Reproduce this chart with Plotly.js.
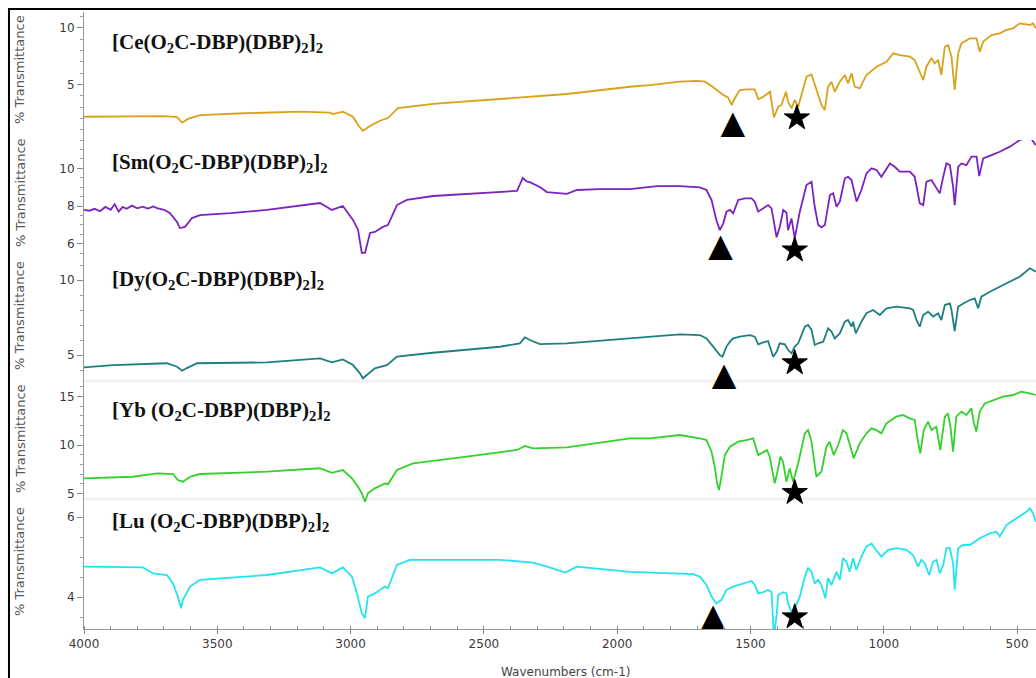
<!DOCTYPE html>
<html>
<head>
<meta charset="utf-8">
<script src="https://cdn.plot.ly/plotly-3.0.1.min.js"></script>
<style>html,body{margin:0;padding:0;background:#fff;}#chart{width:1036px;height:678px;}</style>
</head>
<body>
<div id="chart"></div>
<script>
// ---- Data (wavenumber cm-1, % transmittance) ----
const ceWn = [4000,3900,3800,3700,3651,3632,3610,3565,3400,3190,3077,3066,3029,2991,2972,2954,2927,2890,2860,2822,2691,2440,2189,1952,1877,1765,1700,1671,1646,1602,1584,1571,1559,1540,1515,1484,1471,1452,1427,1412,1396,1384,1367,1359,1346,1334,1321,1290,1271,1252,1234,1221,1209,1196,1184,1165,1146,1134,1121,1109,1090,1065,1027,990,965,940,902,884,871,852,840,821,809,796,784,771,759,746,734,721,709,677,652,640,627,596,565,540,515,490,452,440,430];
const ceT  = [2.14,2.18,2.20,2.20,2.12,1.62,1.95,2.29,2.45,2.59,2.50,2.38,2.59,2.14,1.41,0.91,1.32,1.79,2.03,2.91,3.27,3.71,4.15,4.79,4.94,5.24,5.30,5.24,4.85,4.06,3.85,3.18,3.77,4.50,4.56,4.56,3.68,3.91,4.35,2.09,3.03,3.18,4.35,3.47,2.88,3.62,3.03,5.68,5.88,4.50,3.18,2.74,4.80,5.24,4.35,5.24,5.83,5.09,5.97,4.80,4.65,5.83,6.56,7.00,7.74,7.59,7.44,7.15,6.41,5.38,6.56,7.30,6.85,7.15,5.83,8.32,8.47,7.44,4.50,7.74,8.62,9.06,9.06,7.88,8.77,9.35,9.50,9.80,9.94,10.38,10.24,10.38,9.94];

const smWn = [4000,3980,3960,3940,3920,3900,3885,3870,3855,3840,3820,3800,3780,3760,3740,3726,3700,3678,3651,3640,3621,3595,3565,3450,3314,3200,3115,3070,3029,2991,2972,2958,2946,2927,2909,2879,2860,2826,2789,2691,2564,2376,2354,2340,2328,2290,2264,2189,2151,2065,1952,1850,1765,1690,1665,1646,1628,1615,1602,1590,1577,1565,1546,1521,1496,1484,1471,1452,1434,1421,1402,1390,1377,1365,1359,1346,1334,1315,1290,1271,1259,1246,1234,1221,1202,1190,1177,1165,1146,1134,1121,1102,1084,1065,1046,1027,1009,977,959,940,902,884,865,852,840,821,802,790,777,765,752,740,734,721,709,690,671,652,642,627,596,565,527,490,452,430];
const smT  = [7.79,7.75,7.85,7.72,7.95,7.80,8.10,7.70,7.95,7.85,8.02,7.88,7.96,7.86,7.98,7.89,7.80,7.63,7.15,6.83,6.89,7.36,7.52,7.62,7.79,8.00,8.16,7.79,8.00,7.26,6.73,5.51,5.51,6.57,6.62,6.89,6.99,8.05,8.32,8.53,8.64,8.80,9.49,9.30,9.27,9.01,8.74,8.64,8.85,8.90,8.90,9.05,9.06,8.99,8.85,8.32,7.26,6.72,7.08,7.70,7.79,7.61,8.32,8.40,8.40,8.23,7.70,7.87,8.05,7.87,6.34,6.90,7.79,7.64,6.72,7.34,6.28,7.70,9.11,9.29,7.96,6.99,6.87,6.99,8.58,8.67,7.96,8.23,9.47,9.55,9.38,8.23,8.85,9.73,10.00,9.91,9.55,10.26,10.08,9.82,9.82,9.55,8.14,8.05,9.29,9.38,8.94,8.67,9.55,10.26,10.17,9.02,8.05,10.08,10.26,10.17,10.62,10.62,9.59,10.53,10.70,10.88,11.15,11.50,11.68,11.23];

const dyWn = [4000,3891,3689,3651,3632,3614,3576,3314,3115,3070,3029,2991,2965,2954,2939,2909,2864,2826,2691,2440,2365,2346,2328,2290,2189,1952,1877,1765,1690,1665,1640,1615,1605,1590,1577,1565,1540,1502,1484,1471,1452,1434,1415,1402,1390,1371,1359,1346,1334,1321,1296,1284,1271,1259,1246,1227,1209,1196,1184,1165,1146,1134,1121,1115,1105,1084,1065,1040,1015,990,952,902,890,877,865,852,834,815,796,784,771,752,746,734,721,702,677,659,646,634,602,565,527,490,452,430];
const dyT  = [4.18,4.33,4.45,4.22,3.95,4.13,4.45,4.51,4.78,4.51,4.71,4.33,3.78,3.45,3.67,4.11,4.33,4.89,5.15,5.55,5.78,6.18,6.00,5.73,5.78,6.11,6.18,6.38,6.33,6.11,5.56,5.00,4.89,5.56,5.89,6.11,6.22,6.33,6.22,5.71,5.84,5.93,4.89,5.22,5.78,5.71,5.33,5.11,5.56,5.78,6.89,7.00,6.67,5.67,5.78,5.89,6.78,6.56,6.11,6.44,7.22,7.33,6.89,7.22,6.44,7.22,7.78,8.00,7.67,8.11,8.22,8.11,8.00,7.33,6.89,7.67,7.89,7.56,7.78,7.33,8.33,8.44,8.00,6.60,8.22,8.44,8.67,8.78,8.11,8.89,9.22,9.56,9.89,10.22,10.78,10.56];

const ybWn = [4000,3900,3816,3726,3666,3648,3629,3602,3565,3314,3115,3070,3029,2995,2972,2958,2946,2935,2909,2871,2860,2826,2766,2564,2376,2346,2316,2189,1952,1877,1765,1690,1665,1646,1634,1625,1618,1609,1596,1577,1546,1515,1490,1471,1452,1438,1428,1409,1396,1388,1378,1365,1353,1340,1321,1296,1284,1271,1253,1234,1215,1203,1188,1171,1153,1140,1125,1113,1090,1065,1046,1028,1009,990,953,928,903,884,875,863,850,834,821,803,788,771,759,750,740,728,709,690,671,663,653,640,621,590,553,515,484,453,430];
const ybT  = [6.58,6.65,6.74,7.09,7.02,6.40,6.23,6.74,7.02,7.26,7.61,7.15,7.43,6.58,5.71,5.04,4.17,5.04,5.55,6.06,5.96,7.43,8.12,8.80,9.49,9.90,9.66,9.76,10.69,10.69,11.03,10.68,10.51,9.31,7.77,6.06,5.37,6.75,8.97,9.83,10.34,10.51,10.68,8.97,9.31,9.49,8.80,6.06,7.60,8.80,8.29,6.23,7.60,6.23,8.12,11.20,11.54,10.34,6.75,7.26,9.83,10.34,8.97,10.00,11.54,11.20,9.83,8.63,10.17,11.20,11.71,11.54,11.20,12.23,12.91,13.08,12.74,12.57,10.86,9.14,11.54,12.40,11.54,11.88,9.49,12.91,13.25,11.88,9.31,12.91,13.43,13.08,13.77,12.40,11.37,13.43,14.28,14.62,14.97,15.14,15.48,15.31,15.14];

const luWn = [4000,3779,3741,3689,3666,3648,3636,3629,3602,3565,3314,3115,3070,3029,2995,2976,2958,2946,2935,2909,2871,2860,2826,2778,2564,2440,2316,2253,2196,2151,1952,1877,1765,1715,1690,1665,1646,1628,1609,1590,1565,1546,1521,1496,1484,1471,1452,1434,1421,1412,1402,1396,1377,1365,1359,1346,1334,1315,1296,1284,1271,1259,1246,1234,1219,1209,1196,1177,1165,1153,1140,1128,1115,1103,1084,1065,1046,1034,1009,984,952,915,890,871,859,846,830,815,802,790,777,765,752,740,734,721,702,677,659,640,602,577,565,540,502,465,452,440,430];
const luT  = [4.76,4.74,4.59,4.55,4.34,4.01,3.72,3.93,4.26,4.43,4.55,4.74,4.59,4.74,4.51,4.09,3.59,3.47,4.01,4.09,4.26,4.22,4.80,4.93,4.93,4.93,4.86,4.74,4.61,4.76,4.63,4.61,4.59,4.57,4.51,4.30,4.01,3.84,3.93,4.18,4.26,4.30,4.34,4.40,4.30,4.09,4.12,4.18,4.12,3.00,3.55,4.05,4.12,4.09,3.84,3.63,3.72,4.01,4.51,4.72,4.63,4.34,4.43,4.30,3.97,4.47,4.30,4.63,4.43,4.97,4.88,4.63,4.97,4.68,5.01,5.26,5.34,5.22,5.01,5.18,5.22,5.18,5.05,4.76,4.93,4.84,4.55,4.88,4.93,4.59,4.80,5.22,5.22,4.84,4.18,5.22,5.30,5.30,5.38,5.47,5.59,5.63,5.51,5.80,5.97,6.13,6.22,6.09,5.88];

// band markers (triangle and star) per compound
const triWn = [1566,1612,1599,1621,1640];
const triT  = [1.41,5.77,3.55,3.69,3.475];
const starWn = [1326,1334,1334,1334,1334];
const starT  = [2.03,5.66,4.47,5.10,3.50];

const names = ['[Ce(O<sub>2</sub>C-DBP)(DBP)<sub>2</sub>]<sub>2</sub>',
               '[Sm(O<sub>2</sub>C-DBP)(DBP)<sub>2</sub>]<sub>2</sub>',
               '[Dy(O<sub>2</sub>C-DBP)(DBP)<sub>2</sub>]<sub>2</sub>',
               '[Yb (O<sub>2</sub>C-DBP)(DBP)<sub>2</sub>]<sub>2</sub>',
               '[Lu (O<sub>2</sub>C-DBP)(DBP)<sub>2</sub>]<sub>2</sub>'];
const colors = ['#D9A21B','#7B22C2','#1F7F7F','#33D12B','#22E3EE'];
const series = [[ceWn,ceT],[smWn,smT],[dyWn,dyT],[ybWn,ybT],[luWn,luT]];

// ---- layout geometry ----
const domains = [[0.7925,1],[0.6013,0.7925],[0.4003,0.6013],[0.2058,0.4003],[0,0.2058]];
const ranges = [[0.088,11.386],[5.241,11.501],[3.2,11.467],[4.142,16.475],[3.2,6.375]];
const dticks = [5,2,5,5,2];
const minorD = [1,0.5,1,1,0.5];
const labelY = [0.9498,0.7553,0.5656,0.3533,0.1734];
const titleY = [0.906,0.7066,0.5073,0.3079,0.1086];

const traces = [];
const yk = ['y','y2','y3','y4','y5'];
series.forEach((s,i)=>{
  traces.push({x:s[0], y:s[1], xaxis:'x', yaxis:yk[i], mode:'lines', type:'scatter',
    line:{color:colors[i], width:1.8}, hoverinfo:'skip', showlegend:false});
});
for(let i=0;i<5;i++){
  traces.push({x:[triWn[i]], y:[triT[i]], xaxis:'x', yaxis:yk[i],
    mode:'text', type:'scatter', cliponaxis:false, showlegend:false, hoverinfo:'skip',
    text:['▲'], textposition:'middle center', textfont:{family:'DejaVu Sans', size:32, color:'#000'}});
  traces.push({x:[starWn[i]], y:[starT[i]], xaxis:'x', yaxis:yk[i],
    mode:'markers', type:'scatter', cliponaxis:false, showlegend:false, hoverinfo:'skip',
    marker:{symbol:'star', size:19, color:'#000', opacity:1, line:{width:1, color:'#000'}}});
}

const tickFont = {family:'DejaVu Sans', size:12, color:'#3a3a3a'};
const layout = {
  width:1036, height:678,
  margin:{l:84, r:0, t:12, b:49},
  paper_bgcolor:'#fff', plot_bgcolor:'rgba(0,0,0,0)',
  showlegend:false,
  xaxis:{range:[4000,429], anchor:'y5', dtick:500, tick0:0, ticks:'outside', ticklen:4,
    tickcolor:'#888', showline:true, linecolor:'#999', linewidth:1, showgrid:false, zeroline:false,
    tickfont:tickFont, minor:{dtick:100, ticks:'inside', ticklen:3, tickcolor:'#888'}},
  annotations:[], shapes:[]
};
for(let i=0;i<5;i++){
  const key = i===0 ? 'yaxis' : 'yaxis'+(i+1);
  layout[key] = {domain:domains[i], range:ranges[i], anchor:'x', dtick:dticks[i], tick0:0,
    ticks:'outside', ticklen:6, tickcolor:'#888', showline:true, linecolor:'#999', linewidth:1,
    showgrid:false, zeroline:false, tickfont:tickFont,
    minor:{dtick:minorD[i], ticks:'outside', ticklen:3, tickcolor:'#999'}};
  layout.annotations.push({xref:'paper', yref:'paper', x:0.0273, y:labelY[i], xanchor:'left', yanchor:'middle',
    text:'<b>'+names[i]+'</b>', showarrow:false, font:{family:'Liberation Serif', size:21, color:'#111'}});
  layout.annotations.push({xref:'paper', yref:'paper', x:-0.0672, y:titleY[i], xanchor:'center', yanchor:'middle',
    text:'% Transmittance', textangle:-90, showarrow:false, font:{family:'DejaVu Sans', size:13, color:'#555'}});
}
layout.annotations.push({xref:'paper', yref:'paper', x:0.5053, y:-0.0697, xanchor:'center', yanchor:'middle',
  text:'Wavenumbers (cm-1)', showarrow:false, font:{family:'DejaVu Sans', size:12, color:'#444'}});

// faint panel separators
[0.4019,0.2107].forEach(y=>layout.shapes.push({type:'line', xref:'paper', yref:'paper', x0:0, x1:1, y0:y, y1:y,
  line:{color:'#f2f2f2', width:3}, layer:'below'}));
// outer black frame (left and top edges visible)
layout.shapes.push({type:'path', xref:'paper', yref:'paper', path:'M -0.0788 -0.09 L -0.0788 1.0049 L 1.01 1.0049',
  line:{color:'#000', width:2}});

Plotly.newPlot('chart', traces, layout, {staticPlot:true, displayModeBar:false});
</script>
</body>
</html>
